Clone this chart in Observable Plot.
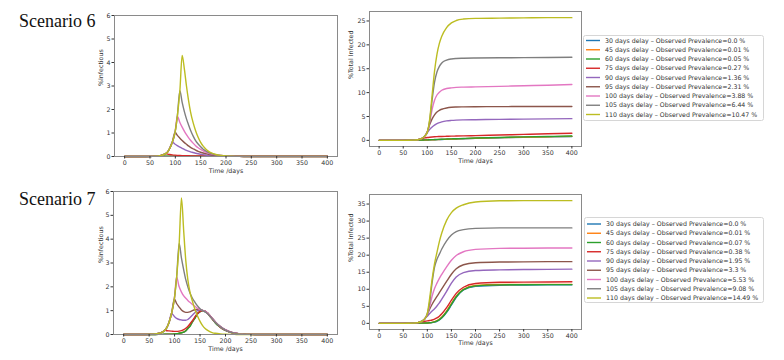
<!DOCTYPE html>
<html><head><meta charset="utf-8">
<script src="https://cdn.jsdelivr.net/npm/d3@7"></script>
<script src="https://cdn.jsdelivr.net/npm/@observablehq/plot@0.6"></script>
<style>
body{margin:0;background:#fff;}
#root{position:relative;width:784px;height:360px;overflow:hidden;background:#fff;}
.panel{position:absolute;}
.title{position:absolute;font-family:"Liberation Serif",serif;font-size:18px;line-height:18px;color:#111;white-space:nowrap;}
.legend{position:absolute;}
</style></head><body><div id="root"></div>
<script>
// ---------- data ----------
const delays = [30, 45, 60, 75, 90, 95, 100, 105, 110];
const colors = ["#1f77b4", "#ff7f0e", "#2ca02c", "#d62728", "#9467bd", "#8c564b", "#e377c2", "#7f7f7f", "#bcbd22"];
const prev6 = ["0.0", "0.01", "0.05", "0.27", "1.36", "2.31", "3.88", "6.44", "10.47"];
const prev7 = ["0.0", "0.01", "0.07", "0.38", "1.95", "3.3", "5.53", "9.08", "14.49"];
const xTicks = [0, 50, 100, 150, 200, 250, 300, 350, 400];
const titles = ["Scenario 6", "Scenario 7"];

// days for %Infectious curves
const infDays = [0, 40, 55, 62, 68, 72, 76, 81, 85, 89, 94, 99.5, 104, 109, 113.5, 118, 122, 126, 130, 135, 140, 145, 150, 155, 160, 165, 170, 175, 180, 190, 200, 210, 220, 235, 250, 275, 300, 350, 400];
// days for %Total Infected curves
const cumDays = [0, 50, 60, 70, 75, 80, 85, 90, 95, 100, 105, 110, 115, 120, 125, 130, 140, 150, 160, 175, 200, 250, 300, 350, 400];

// Scenario 6 - %Infectious
const inf6Blue   = [0,0.002,0.004,0.005,0.005,0.005,0.005,0.005,0.005,0.005,0.005,0.005,0.005,0.005,0.005,0.005,0.005,0.005,0.005,0.005,0.005,0.005,0.005,0.005,0.005,0.005,0.005,0.005,0.005,0.005,0.005,0.005,0.005,0.005,0.005,0.005,0.004,0.004,0.004];
const inf6Orange = [0,0.002,0.005,0.007,0.007,0.007,0.007,0.007,0.007,0.007,0.007,0.007,0.007,0.007,0.007,0.007,0.007,0.007,0.007,0.007,0.007,0.007,0.007,0.007,0.007,0.007,0.007,0.007,0.007,0.007,0.007,0.007,0.007,0.006,0.006,0.006,0.006,0.005,0.005];
const inf6Green  = [0,0.002,0.005,0.013,0.02,0.02,0.019,0.018,0.017,0.016,0.015,0.014,0.014,0.013,0.013,0.012,0.012,0.012,0.011,0.011,0.011,0.011,0.01,0.01,0.01,0.01,0.01,0.01,0.01,0.01,0.01,0.01,0.01,0.009,0.009,0.009,0.009,0.008,0.008];
const inf6Red    = [0,0.002,0.005,0.013,0.028,0.045,0.075,0.12,0.1,0.085,0.07,0.058,0.05,0.044,0.039,0.035,0.032,0.03,0.028,0.026,0.024,0.023,0.022,0.021,0.02,0.019,0.019,0.018,0.018,0.017,0.016,0.016,0.015,0.015,0.014,0.013,0.013,0.012,0.011];
const inf6Purple = [0,0.002,0.005,0.013,0.028,0.045,0.075,0.12,0.2,0.35,0.61,0.52,0.46,0.4,0.35,0.3,0.26,0.23,0.2,0.17,0.14,0.115,0.095,0.078,0.064,0.052,0.043,0.035,0.028,0.018,0.011,0.007,0.004,0.003,0.002,0.001,0.001,0.001,0.001];
const inf6Brown  = [0,0.002,0.005,0.013,0.028,0.045,0.075,0.12,0.2,0.35,0.61,1.03,0.9,0.78,0.68,0.59,0.52,0.45,0.39,0.33,0.27,0.22,0.18,0.15,0.12,0.095,0.075,0.06,0.048,0.028,0.016,0.009,0.005,0.003,0.002,0.001,0.001,0.001,0.001];
const inf6Pink   = [0,0.002,0.005,0.013,0.028,0.045,0.075,0.12,0.2,0.35,0.61,1.03,1.72,1.45,1.25,1.07,0.93,0.8,0.69,0.57,0.46,0.37,0.3,0.24,0.19,0.15,0.115,0.09,0.07,0.04,0.02,0.01,0.005,0.003,0.002,0.001,0.001,0.001,0.001];
const inf6Gray   = [0,0.002,0.005,0.013,0.028,0.045,0.075,0.12,0.2,0.35,0.61,1.03,1.72,2.8,2.3,1.9,1.6,1.35,1.12,0.88,0.68,0.53,0.41,0.31,0.24,0.18,0.135,0.1,0.075,0.04,0.02,0.01,0.005,0.003,0.002,0.001,0.001,0.001,0.001];
const inf6Yellow = [0,0.002,0.005,0.013,0.028,0.045,0.075,0.12,0.2,0.35,0.61,1.03,1.72,2.8,4.3,3.7,3.0,2.4,1.9,1.45,1.1,0.82,0.6,0.44,0.32,0.23,0.16,0.12,0.085,0.045,0.022,0.01,0.005,0.002,0.001,0.001,0.001,0.001,0.001];

// Scenario 7 - %Infectious
const inf7Blue   = [0,0.001,0.002,0.003,0.004,0.005,0.006,0.008,0.01,0.012,0.015,0.02,0.03,0.05,0.07,0.1,0.15,0.24,0.35,0.52,0.7,0.86,0.96,1.0,0.97,0.88,0.76,0.62,0.5,0.3,0.17,0.09,0.045,0.015,0.005,0.001,0,0,0];
const inf7Orange = [0,0.001,0.002,0.003,0.004,0.005,0.006,0.008,0.01,0.012,0.016,0.022,0.033,0.055,0.075,0.11,0.16,0.25,0.36,0.53,0.71,0.87,0.97,1.0,0.97,0.88,0.75,0.62,0.5,0.3,0.17,0.09,0.045,0.015,0.005,0.001,0,0,0];
const inf7Green  = [0,0.001,0.002,0.003,0.005,0.006,0.007,0.009,0.011,0.013,0.016,0.021,0.03,0.05,0.072,0.1,0.16,0.26,0.33,0.54,0.68,0.88,0.95,1.01,0.95,0.9,0.74,0.64,0.48,0.31,0.17,0.09,0.045,0.015,0.005,0.001,0,0,0];
const inf7Red    = [0,0.002,0.008,0.02,0.04,0.065,0.1,0.18,0.16,0.15,0.14,0.13,0.13,0.14,0.16,0.2,0.26,0.34,0.44,0.58,0.74,0.88,0.97,1.0,0.98,0.9,0.78,0.64,0.52,0.31,0.18,0.095,0.048,0.016,0.006,0.001,0,0,0];
const inf7Purple = [0,0.002,0.008,0.02,0.04,0.065,0.1,0.18,0.3,0.5,0.88,0.76,0.68,0.63,0.61,0.6,0.6,0.63,0.7,0.81,0.92,1.0,1.03,1.01,0.97,0.89,0.78,0.65,0.53,0.33,0.19,0.1,0.05,0.017,0.006,0.001,0,0,0];
const inf7Brown  = [0,0.002,0.008,0.02,0.04,0.065,0.1,0.18,0.3,0.5,0.88,1.49,1.3,1.15,1.03,0.96,0.93,0.93,0.95,1.0,1.04,1.06,1.04,1.01,0.97,0.89,0.78,0.65,0.53,0.33,0.19,0.1,0.05,0.017,0.006,0.001,0,0,0];
const inf7Pink   = [0,0.002,0.008,0.02,0.04,0.065,0.1,0.18,0.3,0.5,0.88,1.49,2.4,2.0,1.78,1.62,1.52,1.43,1.35,1.26,1.18,1.1,1.05,1.01,0.97,0.89,0.78,0.65,0.53,0.33,0.19,0.1,0.05,0.017,0.006,0.001,0,0,0];
const inf7Gray   = [0,0.002,0.008,0.02,0.04,0.065,0.1,0.18,0.3,0.5,0.88,1.49,2.4,3.82,3.2,2.7,2.3,2.0,1.75,1.52,1.35,1.2,1.08,1.0,0.95,0.87,0.76,0.63,0.51,0.32,0.18,0.095,0.048,0.016,0.005,0.001,0,0,0];
const inf7Yellow = [0,0.002,0.008,0.02,0.04,0.065,0.1,0.18,0.3,0.5,0.88,1.49,2.4,3.82,5.73,4.3,3.1,2.3,1.8,1.4,1.05,0.78,0.55,0.37,0.25,0.17,0.11,0.07,0.05,0.025,0.012,0.006,0.003,0.001,0,0,0,0,0];

// Scenario 6 - %Total Infected
const cum6Blue   = [0,0,0.01,0.02,0.03,0.04,0.05,0.06,0.07,0.08,0.1,0.11,0.13,0.15,0.17,0.19,0.22,0.26,0.29,0.34,0.42,0.55,0.65,0.73,0.8];
const cum6Orange = [0,0,0.01,0.02,0.03,0.04,0.05,0.06,0.08,0.09,0.11,0.12,0.14,0.16,0.18,0.2,0.24,0.27,0.31,0.36,0.44,0.57,0.68,0.77,0.84];
const cum6Green  = [0,0,0.01,0.03,0.04,0.06,0.07,0.08,0.1,0.11,0.13,0.15,0.17,0.19,0.21,0.23,0.27,0.31,0.35,0.4,0.48,0.61,0.72,0.82,0.9];
const cum6Red    = [0,0,0.01,0.04,0.07,0.13,0.25,0.4,0.52,0.6,0.66,0.71,0.75,0.78,0.8,0.82,0.85,0.88,0.9,0.94,1.0,1.12,1.25,1.37,1.5];
const cum6Purple = [0,0,0.01,0.04,0.07,0.13,0.25,0.5,0.95,1.6,2.3,2.8,3.2,3.5,3.72,3.88,4.08,4.18,4.24,4.29,4.33,4.4,4.45,4.5,4.55];
const cum6Brown  = [0,0,0.01,0.04,0.07,0.13,0.25,0.5,0.95,1.85,3.3,4.5,5.35,5.95,6.3,6.52,6.78,6.92,6.98,7.02,7.05,7.07,7.08,7.09,7.1];
const cum6Pink   = [0,0,0.01,0.04,0.07,0.13,0.25,0.5,0.95,1.7,3.8,6.5,8.4,9.5,10.1,10.5,10.85,11.0,11.1,11.15,11.2,11.3,11.45,11.55,11.7];
const cum6Gray   = [0,0,0.01,0.04,0.07,0.13,0.25,0.5,0.95,1.7,4.2,8.5,12.2,14.3,15.5,16.2,16.8,17.05,17.15,17.2,17.25,17.3,17.32,17.36,17.4];
const cum6Yellow = [0,0,0.01,0.04,0.07,0.13,0.25,0.5,0.95,1.7,4.5,9.5,14.5,18.0,20.3,21.8,23.6,24.6,25.1,25.4,25.55,25.6,25.65,25.7,25.7];

// Scenario 7 - %Total Infected
const cum7Blue   = [0,0,0.01,0.03,0.04,0.05,0.06,0.07,0.08,0.1,0.14,0.22,0.38,0.62,1.0,1.55,3.2,5.4,7.6,9.8,10.9,11.2,11.25,11.28,11.3];
const cum7Orange = [0,0,0.01,0.03,0.04,0.05,0.06,0.07,0.09,0.12,0.18,0.3,0.5,0.8,1.25,1.85,3.6,5.85,8.0,10.0,11.1,11.4,11.43,11.45,11.45];
const cum7Green  = [0,0,0.02,0.04,0.05,0.06,0.07,0.08,0.1,0.12,0.18,0.28,0.45,0.7,1.1,1.7,3.4,5.6,7.8,9.9,11.0,11.3,11.33,11.35,11.35];
const cum7Red    = [0,0,0.02,0.07,0.12,0.22,0.38,0.5,0.62,0.72,0.85,1.0,1.25,1.6,2.1,2.8,4.6,6.8,8.8,10.6,11.7,12.05,12.1,12.15,12.2];
const cum7Purple = [0,0,0.02,0.07,0.12,0.22,0.4,0.75,1.35,2.1,2.9,3.6,4.3,5.1,6.0,7.1,9.4,11.8,13.6,14.9,15.5,15.7,15.8,15.85,15.9];
const cum7Brown  = [0,0,0.02,0.07,0.12,0.22,0.4,0.75,1.4,2.6,4.2,5.6,6.8,7.9,9.0,10.1,12.3,14.4,16.0,17.2,17.8,18.0,18.05,18.1,18.1];
const cum7Pink   = [0,0,0.02,0.07,0.12,0.22,0.4,0.75,1.4,2.7,5.0,8.0,10.2,11.8,13.2,14.4,16.6,18.5,19.9,21.0,21.7,22.0,22.05,22.1,22.1];
const cum7Gray   = [0,0,0.02,0.07,0.12,0.22,0.4,0.75,1.4,2.8,6.2,12.0,16.5,18.8,20.3,21.8,24.2,25.9,26.9,27.5,27.85,28.0,28.0,28.0,28.0];
const cum7Yellow = [0,0,0.02,0.07,0.12,0.22,0.4,0.75,1.4,2.9,7.5,13.0,17.5,20.8,24.0,26.5,30.2,32.5,33.8,34.8,35.6,35.95,36.0,36.0,36.0];

const inf6 = [inf6Blue, inf6Orange, inf6Green, inf6Red, inf6Purple, inf6Brown, inf6Pink, inf6Gray, inf6Yellow];
const inf7 = [inf7Blue, inf7Orange, inf7Green, inf7Red, inf7Purple, inf7Brown, inf7Pink, inf7Gray, inf7Yellow];
const cum6 = [cum6Blue, cum6Orange, cum6Green, cum6Red, cum6Purple, cum6Brown, cum6Pink, cum6Gray, cum6Yellow];
const cum7 = [cum7Blue, cum7Orange, cum7Green, cum7Red, cum7Purple, cum7Brown, cum7Pink, cum7Gray, cum7Yellow];

// ---------- drawing ----------
const root = document.getElementById("root");

function panel(o) {
  const rows = o.series.flatMap((vals, i) => vals.map((v, j) => ({day: o.days[j], v, k: delays[i]})));
  const chart = Plot.plot({
    width: o.width, height: o.height,
    marginLeft: o.mL, marginRight: o.mR, marginTop: o.mT, marginBottom: o.mB,
    x: {domain: [-20, 420], label: null},
    y: {domain: o.yDomain, label: null},
    color: {type: "ordinal", domain: delays, range: colors},
    style: {fontFamily: "DejaVu Sans, sans-serif", fontSize: "6.3px", color: "#333", background: "transparent", overflow: "visible"},
    marks: [
      Plot.line(rows, {x: "day", y: "v", z: "k", stroke: "k", strokeWidth: 1.4, curve: "monotone-x"}),
      Plot.frame({stroke: "#8a8a8a", strokeWidth: 1}),
      Plot.axisX({ticks: xTicks, tickFormat: d => String(d), tickSize: 2.5, tickPadding: 1.5, label: null}),
      Plot.axisY({ticks: o.yTicks, tickFormat: d => String(d), tickSize: 2.5, tickPadding: 1.5, label: null}),
      Plot.text(["Time /days"], {text: d => d, frameAnchor: "bottom", dy: o.xlabDy, fill: "#333"}),
      Plot.text([o.ylabel], {text: d => d, frameAnchor: "left", dx: o.ylabDx, rotate: -90, fill: "#333"})
    ]
  });
  const div = document.createElement("div");
  div.className = "panel";
  div.style.left = o.left + "px";
  div.style.top = o.top + "px";
  div.appendChild(chart);
  root.appendChild(div);
}

function legend(left, top, width, height, firstY, prev) {
  const div = document.createElement("div");
  div.className = "legend";
  div.style.left = left + "px";
  div.style.top = top + "px";
  const svg = d3.select(div).append("svg").attr("width", width).attr("height", height);
  svg.append("rect").attr("x", 0.5).attr("y", 0.5).attr("width", width - 1).attr("height", height - 1)
    .attr("rx", 2).attr("fill", "#fff").attr("stroke", "#d6d6d6");
  const step = 9.25;
  delays.forEach((d, i) => {
    const y = firstY + i * step;
    svg.append("line").attr("x1", 3).attr("x2", 17).attr("y1", y).attr("y2", y)
      .attr("stroke", colors[i]).attr("stroke-width", 1.4);
    svg.append("text").attr("x", 22).attr("y", y).attr("dy", "0.34em")
      .attr("font-family", "DejaVu Sans, sans-serif").attr("font-size", 6.25).attr("fill", "#333")
      .text(`${d} days delay – Observed Prevalence=${prev[i]} %`);
  });
  root.appendChild(div);
}

function title(text, left, top) {
  const t = document.createElement("div");
  t.className = "title";
  t.style.left = left + "px";
  t.style.top = top + "px";
  t.textContent = text;
  root.appendChild(t);
}

title(titles[0], 19, 12);
title(titles[1], 19, 190);

panel({left: 80, top: 0, width: 265, height: 180, mL: 34, mR: 8, mT: 15, mB: 24,
  yDomain: [0, 6], yTicks: [0, 1, 2, 3, 4, 5, 6], days: infDays, series: inf6,
  ylabel: "%Infectious", xlabDy: 16.5, ylabDx: -14});
panel({left: 340, top: 0, width: 245, height: 175, mL: 29, mR: 4, mT: 11, mB: 29,
  yDomain: [-1.285, 26.985], yTicks: [0, 5, 10, 15, 20, 25], days: cumDays, series: cum6,
  ylabel: "%Total Infected", xlabDy: 16, ylabDx: -19});
panel({left: 80, top: 180, width: 265, height: 180, mL: 33, mR: 8, mT: 11, mB: 26,
  yDomain: [0, 6], yTicks: [0, 1, 2, 3, 4, 5, 6], days: infDays, series: inf7,
  ylabel: "%Infectious", xlabDy: 16.5, ylabDx: -13});
panel({left: 340, top: 180, width: 245, height: 180, mL: 29, mR: 4, mT: 14, mB: 31,
  yDomain: [-1.8, 37.8], yTicks: [0, 5, 10, 15, 20, 25, 30, 35], days: cumDays, series: cum7,
  ylabel: "%Total Infected", xlabDy: 15, ylabDx: -19});

legend(583, 35, 181, 86, 5.5, prev6);
legend(584, 217, 180, 86, 7, prev7);
</script></body></html>
